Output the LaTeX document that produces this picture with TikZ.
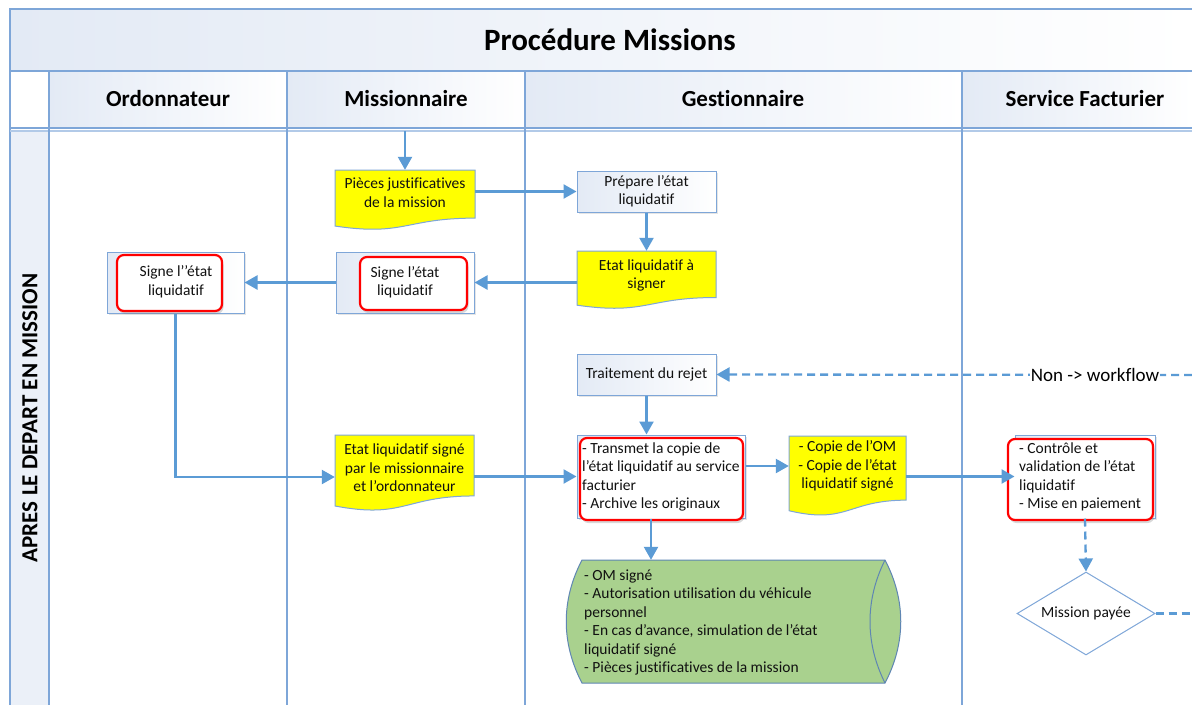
\documentclass[tikz,border=0pt]{standalone}
\usepackage{fontspec}
\setmainfont{Carlito}[Ligatures=NoCommon]
\usetikzlibrary{arrows.meta,shapes.geometric,shadows,calc}
\definecolor{laneblue}{HTML}{7EA6D8}
\definecolor{arrowblue}{HTML}{5B9BD5}
\definecolor{hdrfill}{HTML}{E3EAF5}
\definecolor{docyellow}{HTML}{FFFF00}
\definecolor{cylgreen}{HTML}{A9D18E}
\definecolor{cylline}{HTML}{5F86B3}
\definecolor{redline}{HTML}{FF0000}
\definecolor{textdark}{HTML}{111111}
\tikzset{
  lanel/.style={draw=laneblue, line width=1.4pt},
  txtn/.style={inner sep=0pt, text=textdark, font=\fontsize{15.5}{18.5}\selectfont},
  procbox/.style={draw=laneblue, line width=1pt, inner sep=0pt, left color=hdrfill, right color=white, drop shadow={opacity=0.2, shadow xshift=1.5pt, shadow yshift=-2pt}},
  redbox/.style={draw=redline, line width=2.2pt, rounded corners=7pt, fill=white, inner sep=0pt, drop shadow={opacity=0.3, shadow xshift=1.5pt, shadow yshift=-3pt}},
  flow/.style={draw=arrowblue, line width=2.3pt, -{Triangle[length=13pt,width=14pt]}},
  dflow/.style={flow, dash pattern=on 8pt off 5pt},
  dline/.style={draw=arrowblue, line width=2.3pt, dash pattern=on 8pt off 5pt},
  docshape/.style={fill=docyellow, draw=laneblue, line width=1pt},
}
\newcommand\docnode[7]{%
  \path[docshape] ({#2-#4/2},#3) -- ({#2+#4/2},#3) -- ({#2+#4/2},{#3+0.802*#5})
    .. controls (#2,{#3+0.802*#5}) and (#2,{#3+1.107*#5}) .. ({#2-#4/2},{#3+0.934*#5}) -- cycle;
  \node[txtn, align=center, minimum width={#4*1pt}, minimum height={2*(#6-#3)*1pt}] (#1) at (#2,#6) {#7};
}
\begin{document}
\begin{tikzpicture}[x=1pt,y=-1pt]
\useasboundingbox (0,0) rectangle (1192,705);
\fill[white] (0,0) rectangle (1192,705);
% swimlane frame
\shade[left color=hdrfill, right color=white] (10,9) rectangle (1192,71);
\foreach \a/\b in {49/287,287/525,525/962,962/1192}
  \shade[left color=hdrfill, right color=white] (\a,71) rectangle (\b,128);
\fill[hdrfill!70] (10,131) rectangle (49,705);
\draw[lanel] (10,705) -- (10,9) -- (1192,9);
\draw[lanel] (10,71) -- (1192,71);
\draw[lanel] (10,128) -- (1192,128);
\draw[lanel, draw=laneblue!60] (10,131) -- (1192,131);
\foreach \x in {49,287,525,962}
  \draw[lanel] (\x,71) -- (\x,705);
\node[font=\bfseries\fontsize{31}{34}\selectfont] (title) at (610,40) {Procédure Missions};
\node[font=\bfseries\fontsize{23}{26}\selectfont] (hOrd) at (168,99) {Ordonnateur};
\node[font=\bfseries\fontsize{23}{26}\selectfont] (hMis) at (406,99) {Missionnaire};
\node[font=\bfseries\fontsize{23}{26}\selectfont] (hGes) at (743,99) {Gestionnaire};
\node[font=\bfseries\fontsize{23}{26}\selectfont] (hSer) at (1085,99) {Service Facturier};
\node[rotate=90, font=\bfseries\fontsize{23}{26}\selectfont] (phase) at (30,418) {APRES LE DEPART EN MISSION};

% documents
\docnode{pj}{405}{170}{140}{60}{192.5}{Pièces justificatives\\de la mission}
\docnode{eas}{646.5}{251}{139}{58}{275.5}{Etat liquidatif à\\signer}
\docnode{els}{404.5}{435}{139}{76}{468}{Etat liquidatif signé\\par le missionnaire\\et l’ordonnateur}
\docnode{copie}{847.5}{436}{117}{80}{466}{- Copie de l’OM\\- Copie de l’état\\liquidatif signé}

% process boxes
\node[procbox, txtn, align=center, minimum width=139pt, minimum height=41pt] (prep) at (646.5,191.5) {Prépare l’état\\liquidatif};
\node[procbox, txtn, align=center, minimum width=139pt, minimum height=41pt] (trait) at (646.5,374.5) {Traitement du rejet};

\node[procbox, minimum width=137pt, minimum height=61pt] (sord) at (175.5,282.5) {};
\node[redbox, minimum width=105pt, minimum height=56pt] (sordR) at (169.5,283) {};
\node[txtn, align=center] (sordT) at (176,282) {Signe l’’état\\liquidatif};

\node[procbox, minimum width=138pt, minimum height=61pt] (smis) at (405,282.5) {};
\node[redbox, minimum width=107pt, minimum height=53pt] (smisR) at (413.5,283.5) {};
\node[txtn, align=center] (smisT) at (405,282.5) {Signe l’état\\liquidatif};

\node[procbox, minimum width=168pt, minimum height=83pt] (trans) at (661,476.5) {};
\node[redbox, minimum width=163pt, minimum height=82pt] (transR) at (661.5,479) {};
\node[txtn, align=left, anchor=west] (transT) at (582,477) {- Transmet la copie de\\l’état liquidatif au service\\facturier\\- Archive les originaux};

\node[procbox, minimum width=140pt, minimum height=83pt] (ctrl) at (1085,476.5) {};
\node[redbox, minimum width=145pt, minimum height=81pt] (ctrlR) at (1080.5,479.5) {};
\node[txtn, align=left, anchor=west] (ctrlT) at (1019,477) {- Contrôle et\\validation de l’état\\liquidatif\\- Mise en paiement};

\node[txtn, draw=laneblue, line width=1pt, fill=white, diamond, aspect=1.66, minimum width=138pt, minimum height=83pt] (pay) at (1086,613.5) {Mission payée};

% cylinder (archive)
\path[fill=cylgreen, draw=cylline, line width=1pt] (582,560) -- (885,560)
  .. controls (906,600) and (906,643) .. (885,683) -- (582,683)
  .. controls (561,643) and (561,600) .. (582,560) -- cycle;
\draw[cylline, line width=1pt] (885,560) .. controls (865,600) and (865,643) .. (885,683);
\node[inner sep=0pt, minimum width=336pt, minimum height=123pt] (cyl) at (733,621.5) {};
\node[txtn, align=left, anchor=west] (cylT) at (584,622.5) {- OM signé\\- Autorisation utilisation du véhicule\\personnel\\- En cas d’avance, simulation de l’état\\liquidatif signé\\- Pièces justificatives de la mission};

% connectors
\coordinate (start) at (405,131);
\coordinate (nonR) at (1192,375);
\coordinate (payR) at (1192,613.5);
\coordinate (tb) at ($(trans.south)+(-10,0)$);
\draw[flow] (start) -- (pj.north);
\draw[flow] (pj.east |- prep.west) -- (prep.west);
\draw[flow] (prep.south) -- (eas.north);
\draw[flow] (eas.west |- smis) -- (smis.east);
\draw[flow] (smis.west) -- (sord.east);
\draw[flow] (sord.south) |- ($(els.west)+(0,9)$);
\draw[flow] (els.east |- trans.west) -- (trans.west);
\draw[flow] (trait.south) -- (trait.south |- trans.north);
\draw[flow] (copie.west -| trans.east) -- (copie.west);
\draw[flow] (copie.east |- ctrl.west) -- (ctrl.west);
\draw[flow] (tb) -- (tb |- cyl.north);
\draw[dflow] (nonR) -- (trait.east) node[pos=0.204, fill=white, inner sep=1pt, text=black, font=\fontsize{19}{22}\selectfont] (nonL) {Non -> workflow};
\draw[dflow] (ctrl.south) -- (pay.north);
\draw[dline] (pay.east) -- (payR);
\end{tikzpicture}
\end{document}
